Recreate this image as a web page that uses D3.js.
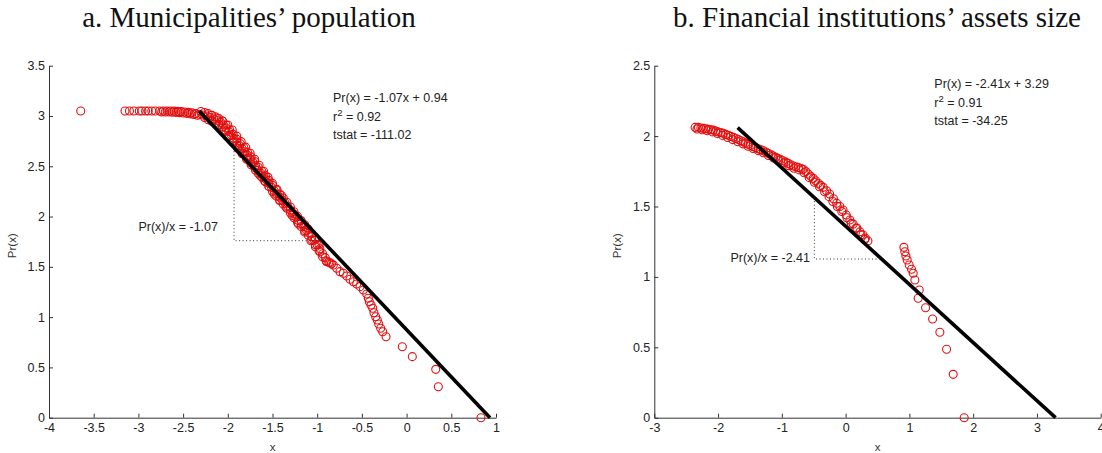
<!DOCTYPE html>
<html><head><meta charset="utf-8">
<script src="https://cdn.jsdelivr.net/npm/d3@7"></script>
<style>body{margin:0;background:#fff}</style>
</head><body><svg id="chart" width="1102" height="453"></svg>
<script>
// ---------- data ----------
const titles = ["a. Municipalities\u2019 population", "b. Financial institutions\u2019 assets size"];

const munX = [-3.645,-3.15,-3.10,-3.05,-2.99,-2.96,-2.92,-2.89,-2.85,-2.81,
 -2.76,-2.72,-2.68,-2.64,-2.60,-2.56,-2.52,-2.48,-2.44,-2.40,-2.36,-2.32,-2.28,-2.24,-2.20,-2.16,-2.12,-2.08,-2.05,-2.02,
 -1.99,-1.96,-1.93,-1.90,-1.87,-1.84,-1.81,-1.78,-1.75,-1.72,-1.69,-1.66,-1.63,-1.60,-1.57,-1.54,-1.51,-1.48,-1.45,-1.42,
 -1.39,-1.36,-1.33,-1.30,-1.27,-1.24,-1.21,-1.18,-1.15,-1.12,-1.09,-1.06,-1.03,-1.00,-0.97,-0.94,-0.91,
 -2.74,-2.70,-2.66,-2.62,-2.58,-2.54,-2.50,-2.46,-2.42,-2.38,-2.34,
 -2.18,-2.12,-2.06,-2.00,-1.95,-1.90,-1.85,-1.80,-1.75,-1.70,-1.65,-1.60,-1.55,-1.50,-1.45,-1.40,
 -2.26,-2.18,-2.10,-2.04,-1.99,-1.94,-1.89,-1.84,-1.79,-1.74,-1.69,-1.64,-1.59,-1.54,-1.48,-1.42,-1.35,-1.28,-1.21,-1.14,-1.07,-1.02,-0.97,
 -2.30,-2.26,-2.22,-2.18,-2.14,-2.10,-2.06,-2.02,-1.98,-1.94,-1.90,-1.86,-1.82,-1.78,-1.74,-1.70,-1.66,-1.62,-1.58,-1.54,-1.50,-1.46,-1.42,-1.38,-1.34,-1.30,-1.26,-1.22,-1.18,-1.14,-1.10,-1.06,-1.02,-0.98,
 -2.22,-2.18,-2.14,-2.10,-2.06,-2.02,-1.98,-1.94,-1.90,-1.86,-1.82,-1.78,-1.74,-1.70,-1.66,-1.62,-1.58,-1.54,-1.50,-1.46,-1.42,-1.38,-1.34,-1.30,-1.26,-1.22,-1.18,-1.14,-1.10,-1.06,-1.02,-0.98,-0.94,-0.90,-0.87,-0.84,
 -0.894,-0.857,-0.820,-0.782,-0.745,-0.708,-0.670,-0.633,-0.596,-0.558,-0.521,-0.484,-0.446,-0.428,-0.417,-0.398,-0.379,-0.365,-0.346,-0.328,-0.312,-0.290,-0.267,-0.230,
 -0.048,0.064,0.326,0.355,0.832];
const munY = [3.05,3.05,3.05,3.05,3.05,3.05,3.05,3.05,3.05,3.05,
 3.05,3.05,3.05,3.05,3.048,3.046,3.043,3.04,3.036,3.031,3.025,3.018,3.010,3.000,2.985,2.970,2.955,2.935,2.91,2.88,
 2.845,2.81,2.775,2.74,2.705,2.675,2.645,2.61,2.575,2.54,2.505,2.46,2.43,2.40,2.365,2.33,2.29,2.255,2.225,2.195,
 2.165,2.135,2.10,2.065,2.03,1.995,1.96,1.93,1.90,1.865,1.835,1.80,1.765,1.72,1.68,1.63,1.59,
 3.04,3.04,3.04,3.038,3.036,3.033,3.03,3.026,3.021,3.015,3.008,
 3.005,2.98,2.95,2.91,2.86,2.80,2.745,2.69,2.63,2.57,2.51,2.45,2.39,2.33,2.27,2.21,
 2.985,2.955,2.915,2.86,2.80,2.735,2.68,2.625,2.57,2.515,2.46,2.41,2.355,2.30,2.225,2.16,2.095,2.01,1.925,1.845,1.76,1.70,1.65,
 3.044,3.035,3.023,3.008,2.992,2.975,2.95,2.91,2.863,2.817,2.77,2.725,2.685,2.64,2.593,2.547,2.49,2.45,2.407,2.36,2.31,2.265,2.225,2.185,2.142,2.095,2.048,2.002,1.96,1.918,1.875,1.83,1.78,1.723,
 2.963,2.948,2.932,2.915,2.89,2.85,2.803,2.757,2.71,2.665,2.625,2.58,2.533,2.487,2.43,2.39,2.347,2.30,2.25,2.205,2.165,2.125,2.082,2.035,1.988,1.942,1.90,1.858,1.815,1.77,1.72,1.663,1.60,1.56,1.545,1.53,
 1.551,1.541,1.518,1.486,1.452,1.436,1.409,1.376,1.352,1.329,1.303,1.270,1.230,1.187,1.153,1.121,1.088,1.044,1.004,0.971,0.932,0.889,0.855,0.805,
 0.706,0.607,0.481,0.308,0.0];
const munFitX = [-2.32, 0.933];
const munFitY = [3.05, 0.0];
const munGuide = [-1.93, 1.76];
const munEquation = ["Pr(x) = -1.07x + 0.94", "0.92", "tstat = -111.02"];
const munSlopeLabel = "Pr(x)/x = -1.07";

const finX = [-2.36,-2.31,-2.27,-2.23,-2.19,-2.15,-2.11,-2.075,-2.04,-2.00,-1.96,-1.92,-1.88,-1.84,-1.80,-1.76,-1.72,-1.68,-1.64,-1.605,
 -1.57,-1.53,-1.49,-1.45,-1.41,-1.37,-1.33,-1.29,-1.25,-1.21,-1.17,-1.135,-1.10,-1.06,-1.02,-0.98,-0.94,-0.90,-0.86,-0.82,
 -0.78,-0.74,-0.70,-0.665,-0.625,-0.586,-0.548,-0.508,-0.47,-0.43,-0.39,-0.35,-0.30,-0.25,-0.19,-0.14,-0.09,-0.04,0.01,0.067,
 0.12,0.177,0.225,0.271,0.31,0.35,
 -2.33,-2.25,-2.17,-2.09,-2.01,-1.93,-1.85,-1.77,-1.69,-1.61,-1.53,-1.45,-1.37,-1.29,-1.21,-1.13,-1.05,-0.97,-0.89,-0.81,
 -0.73,-0.65,-0.57,-0.49,-0.41,-0.33,-0.26,-0.20,-0.13,-0.06,0.02,0.09,0.16,0.24,0.30,
 0.914,0.929,0.945,0.966,0.997,1.034,1.060,1.086,1.154,1.138,1.254,1.364,1.478,1.583,1.687,1.859];
const finY = [2.062,2.062,2.058,2.055,2.052,2.048,2.045,2.043,2.035,2.03,2.025,2.02,2.012,2.005,1.998,1.991,1.983,1.975,1.967,1.96,
 1.95,1.942,1.935,1.925,1.918,1.91,1.903,1.896,1.887,1.876,1.867,1.859,1.85,1.842,1.834,1.825,1.815,1.806,1.797,1.788,
 1.782,1.776,1.77,1.764,1.748,1.731,1.715,1.700,1.683,1.665,1.650,1.636,1.612,1.589,1.555,1.523,1.50,1.475,1.44,1.404,
 1.375,1.347,1.32,1.298,1.275,1.255,
 2.05,2.045,2.038,2.03,2.018,2.005,1.99,1.975,1.96,1.945,1.928,1.912,1.897,1.882,1.862,1.845,1.828,1.81,1.79,1.772,
 1.76,1.74,1.705,1.672,1.64,1.605,1.57,1.535,1.50,1.465,1.42,1.38,1.345,1.30,1.265,
 1.210,1.179,1.148,1.120,1.085,1.054,1.026,0.978,0.907,0.848,0.781,0.701,0.607,0.486,0.308,0.0];
const finFitX = [-1.693, 3.292];
const finFitY = [2.06, 0.0];
const finGuide = [-0.49, 1.127];
const finEquation = ["Pr(x) = -2.41x + 3.29", "0.91", "tstat = -34.25"];
const finSlopeLabel = "Pr(x)/x = -2.41";

const munXTicks = [-4,-3.5,-3,-2.5,-2,-1.5,-1,-0.5,0,0.5,1];
const munXTickLabels = ["-4","-3.5","-3","-2.5","-2","-1.5","-1","-0.5","0","0.5","1"];
const munYTicks = [0,0.5,1,1.5,2,2.5,3,3.5];
const munYTickLabels = ["0","0.5","1","1.5","2","2.5","3","3.5"];
const finXTicks = [-3,-2,-1,0,1,2,3,4];
const finXTickLabels = ["-3","-2","-1","0","1","2","3","4"];
const finYTicks = [0,0.5,1,1.5,2,2.5];
const finYTickLabels = ["0","0.5","1","1.5","2","2.5"];

// ---------- layout ----------
const svg = d3.select("#chart");
const panels = [
  {title: titles[0], titleX: 249, xs: munX, ys: munY, fitX: munFitX, fitY: munFitY, guide: munGuide,
   eq: munEquation, slope: munSlopeLabel, xT: munXTicks, xL: munXTickLabels, yT: munYTicks, yL: munYTickLabels,
   xDom: [-4, 1], yDom: [0, 3.5], xRange: [49, 496], yRange: [417.7, 65.7],
   eqX: 333, eqY: 102, slopeEndX: 218, slopeY: 231, yLabX: 12},
  {title: titles[1], titleX: 877, xs: finX, ys: finY, fitX: finFitX, fitY: finFitY, guide: finGuide,
   eq: finEquation, slope: finSlopeLabel, xT: finXTicks, xL: finXTickLabels, yT: finYTicks, yL: finYTickLabels,
   xDom: [-3, 4], yDom: [0, 2.5], xRange: [654.3, 1100.7], yRange: [417.7, 65.7],
   eqX: 934.3, eqY: 88, slopeEndX: 810, slopeY: 261.5, yLabX: 617}
];

const sansFont = "'Liberation Sans', Arial, sans-serif";

panels.forEach(p => {
  const x = d3.scaleLinear().domain(p.xDom).range(p.xRange);
  const y = d3.scaleLinear().domain(p.yDom).range(p.yRange);
  const g = svg.append("g");

  // title
  svg.append("text").attr("x", p.titleX).attr("y", 27).attr("text-anchor", "middle")
    .attr("font-family", "'Liberation Serif', 'Times New Roman', serif").attr("font-size", 29)
    .attr("fill", "#111").text(p.title);

  // axes
  const xAxis = d3.axisBottom(x).tickValues(p.xT).tickFormat((d, i) => p.xL[i])
    .tickSizeInner(-4).tickSizeOuter(0).tickPadding(5);
  const yAxis = d3.axisLeft(y).tickValues(p.yT).tickFormat((d, i) => p.yL[i])
    .tickSizeInner(-4).tickSizeOuter(0).tickPadding(4);
  const gx = g.append("g").attr("transform", `translate(0,${p.yRange[0]})`).call(xAxis);
  const gy = g.append("g").attr("transform", `translate(${p.xRange[0]},0)`).call(yAxis);
  [gx, gy].forEach(a => {
    a.select(".domain").attr("stroke", "#333").attr("stroke-width", 1);
    a.selectAll(".tick line").attr("stroke", "#333");
    a.selectAll(".tick text").attr("font-family", sansFont).attr("font-size", 12.5).attr("fill", "#222");
  });

  // axis labels
  g.append("text").attr("x", (p.xRange[0] + p.xRange[1]) / 2).attr("y", 451)
    .attr("text-anchor", "middle").attr("font-family", sansFont).attr("font-size", 11.5).attr("fill", "#333").text("x");
  g.append("text").attr("transform", `translate(${p.yLabX + 4},${(p.yRange[0] + p.yRange[1]) / 2 + 4}) rotate(-90)`)
    .attr("text-anchor", "middle").attr("font-family", sansFont).attr("font-size", 11.5).attr("fill", "#333").text("Pr(x)");

  // data points
  const pts = p.xs.map((v, i) => [v, p.ys[i]]);
  g.append("g").selectAll("circle").data(pts).join("circle")
    .attr("cx", d => x(d[0])).attr("cy", d => y(d[1])).attr("r", 4)
    .attr("fill", "none").attr("stroke", "#e01010").attr("stroke-width", 1.1);

  // fit line
  g.append("line").attr("x1", x(p.fitX[0])).attr("y1", y(p.fitY[0]))
    .attr("x2", x(p.fitX[1])).attr("y2", y(p.fitY[1]))
    .attr("stroke", "#000").attr("stroke-width", 3.6);

  // guide (dotted) lines
  const slope = (p.fitY[1] - p.fitY[0]) / (p.fitX[1] - p.fitX[0]);
  const yOnFit = p.fitY[0] + (p.guide[0] - p.fitX[0]) * slope;
  const xOnFit = p.fitX[0] + (p.guide[1] - p.fitY[0]) / slope;
  g.append("path")
    .attr("d", `M${x(p.guide[0])},${y(yOnFit)}L${x(p.guide[0])},${y(p.guide[1])}L${x(xOnFit)},${y(p.guide[1])}`)
    .attr("fill", "none").attr("stroke", "#333").attr("stroke-width", 1).attr("stroke-dasharray", "1,2.5");

  // slope label
  g.append("text").attr("x", p.slopeEndX).attr("y", p.slopeY).attr("text-anchor", "end")
    .attr("font-family", sansFont).attr("font-size", 12.5).attr("fill", "#222").text(p.slope);

  // equation block
  const eq = g.append("g").attr("font-family", sansFont).attr("font-size", 12.5).attr("fill", "#222");
  eq.append("text").attr("x", p.eqX).attr("y", p.eqY).text(p.eq[0]);
  const r2 = eq.append("text").attr("x", p.eqX).attr("y", p.eqY + 18.5);
  r2.append("tspan").text("r");
  r2.append("tspan").attr("font-size", 9.5).attr("dy", -5).text("2");
  r2.append("tspan").attr("dy", 5).text(" = " + p.eq[1]);
  eq.append("text").attr("x", p.eqX).attr("y", p.eqY + 36.5).text(p.eq[2]);
});
</script>
</body></html>
